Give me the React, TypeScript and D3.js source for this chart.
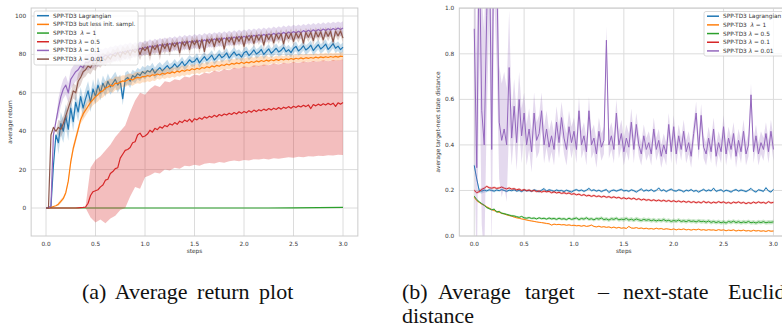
import React, { useEffect, useRef } from 'react';
import * as d3 from 'd3';

// sampling of the curves (steps, in millions)
const STEP = 0.025;
const SPREAD_STEP = 0.125;

// ---- (a) average return ----
const BLUE_L = [
  0, 0, 0.5, 22, 38, 34, 44, 40, 48, 41,
  52, 45, 55, 50, 58, 52, 57, 61, 55, 62,
  58, 64, 60, 65, 62, 66, 63, 65, 67, 64,
  66, 57, 67, 68, 66, 69, 68, 70, 69, 71,
  70, 71.5, 70.8, 72.6, 70.2, 71.9, 73.1, 71.4, 72.8, 74.2,
  72.5, 73.4, 75.1, 73.3, 74.6, 76.3, 74.1, 75.5, 77.2, 75.9,
  76.4, 78.1, 75.6, 77.3, 78.8, 76.9, 78.2, 79.6, 77.1, 78.5,
  80.1, 78.3, 79.2, 80.8, 78.1, 79.7, 81.3, 79.4, 80.2, 78.6,
  80.9, 81.6, 79.4, 80.7, 82.3, 80.2, 81.1, 82.6, 80.0, 81.5,
  82.9, 80.6, 81.8, 83.2, 81.3, 82.1, 83.7, 81.4, 82.5, 80.9,
  83.1, 84.2, 81.8, 82.9, 84.5, 82.3, 83.3, 84.8, 82.0, 83.6,
  85.1, 82.8, 83.9, 85.4, 82.6, 84.0, 85.6, 83.2, 84.3, 82.5,
  83.8,
];
const ORANGE_L = [
  0, 0, 0.3, 0.8, 1.2, 2, 3.5, 5, 8, 14,
  24, 31, 36, 41, 46, 49, 51, 53, 55, 56.5,
  58, 59, 60.5, 61, 62.5, 63, 64, 63.5, 65, 64.8,
  65.5, 66.2, 66, 66.8, 67.1, 66.7, 67.6, 68, 67.7, 68.5,
  68.4, 69.0, 68.6, 69.4, 69.1, 69.8, 69.3, 70.2, 69.7, 70.5,
  70.1, 70.9, 70.4, 71.3, 70.8, 71.7, 71.2, 72.0, 71.6, 72.5,
  72.0, 72.8, 72.3, 73.2, 72.8, 73.6, 73.1, 74.0, 73.5, 74.3,
  73.8, 74.6, 74.2, 75.0, 74.5, 75.3, 74.9, 75.6, 75.1, 75.9,
  75.3, 76.0, 75.6, 76.3, 75.8, 76.6, 76.1, 76.8, 76.3, 77.0,
  76.5, 77.2, 76.7, 77.4, 76.9, 77.6, 77.1, 77.7, 77.3, 77.9,
  77.4, 78.0, 77.6, 78.2, 77.7, 78.3, 77.9, 78.4, 78.0, 78.6,
  78.1, 78.7, 78.3, 78.8, 78.4, 78.9, 78.5, 79.0, 78.6, 79.1,
  78.9,
];
const GREEN_L_STEP = 0.25;
const GREEN_L = [0, 0, 0, 0, 0, 0, 0, 0, 0, 0, 0.1, 0.2, 0.3];
const RED_L = [
  0, 0, 0, 0, 0, 0, 0, 0, 0, 0,
  0, 0, 0, 0.1, 0.2, 0.3, 0.5, 2.5, 6.5, 8.5,
  9, 9.5, 11, 12, 14.5, 15, 18, 19, 20.5, 21,
  26, 28, 30, 30.5, 31.5, 34, 34.5, 38, 39, 37,
  37.5, 38.5, 40.5, 39.5, 41.5, 40.8, 42.3, 41.6, 43, 42.4,
  43.8, 43.2, 44.5, 43.6, 45.2, 44.5, 45.8, 45.0, 46.3, 44.8,
  46.5, 45.9, 47, 46.2, 47.5, 46.8, 47.8, 47.2, 48.3, 47.5,
  48.7, 48, 49, 48.4, 49.4, 48.7, 49.7, 49, 50.1, 49.3,
  50.3, 49.6, 50.7, 49.9, 51, 50.2, 51.2, 50.6, 51.5, 50.8,
  51.8, 51.1, 52, 51.3, 52.3, 51.5, 52.5, 51.9, 52.8, 52,
  53, 52.3, 53.2, 52.6, 53.5, 52.8, 53.7, 51.8, 53.9, 53.2,
  54.1, 53.4, 54.3, 53.6, 54.5, 53.8, 54.6, 52.9, 54.8, 54.1,
  55,
];
const PURPLE_L = [
  0, 0.2, 1, 38, 45, 52, 58, 62, 64, 60,
  67, 69, 71, 72, 74, 73, 76, 75.5, 77, 76.5,
  78, 77.5, 79, 78.4, 79.6, 79.0, 80.2, 79.7, 80.8, 80.2,
  81.3, 80.6, 81.7, 81.1, 82.3, 81.6, 82.8, 82.0, 83.2, 82.6,
  83.8, 83.1, 84.4, 83.4, 84.6, 83.8, 85.1, 84.2, 85.3, 84.5,
  85.7, 84.9, 86.0, 85.1, 86.3, 85.4, 86.6, 85.8, 86.8, 86.0,
  87.1, 86.2, 87.3, 86.4, 87.6, 86.7, 87.8, 87.0, 88.1, 87.2,
  88.3, 87.4, 88.6, 87.7, 88.8, 87.9, 89.1, 88.2, 89.3, 88.4,
  89.5, 88.7, 89.8, 88.9, 90.0, 89.2, 90.3, 89.4, 90.5, 89.6,
  90.7, 89.9, 91.0, 90.1, 91.2, 90.4, 91.5, 90.6, 91.7, 90.9,
  91.9, 91.1, 92.1, 91.3, 92.4, 91.6, 92.6, 91.8, 92.8, 92.0,
  93.0, 92.2, 93.2, 92.4, 93.4, 92.6, 93.5, 92.8, 93.7, 93.0,
  93.8,
];
const BROWN_L = [
  0, 0, 38, 42, 40, 42, 41, 44, 48, 52,
  56, 61, 60, 66, 68, 71, 72, 74, 73, 75.5,
  74.5, 77, 76, 78, 77, 79, 77.5, 80, 79, 81,
  78.5, 81.5, 80, 82, 79.5, 82.5, 81, 83, 80, 83.5,
  82, 84, 79.5, 84.5, 82.5, 85, 80, 85.5, 83, 85.8,
  81.5, 86, 84, 86.3, 80.8, 86.6, 84.4, 87, 82.5, 87.2,
  85, 87.5, 83, 87.8, 81.5, 88, 85.8, 88.2, 84, 88.5,
  86.2, 88.6, 82.8, 88.8, 86.5, 89, 85, 89.2, 86.8, 89.4,
  84.2, 89.6, 87.2, 89.8, 85.6, 90, 87.4, 90.1, 84.8, 90.3,
  87.8, 90.4, 86, 90.6, 88, 90.7, 85.5, 90.9, 88.3, 91,
  86.8, 91.1, 88.6, 91.3, 85.9, 91.4, 88.9, 91.5, 87.2, 91.7,
  89.1, 91.8, 87.6, 91.9, 89.4, 92, 86.5, 92.1, 89.6, 92.2,
  88.5,
];
// red band of (a) is very wide, read on its own grid
const RED_L_BAND_START = 0.4;
const RED_L_BAND_STEP = 0.05;
const RED_L_LO = [
  0, -5, -7.5, -6, -8, -5.5, -4, -1, 0, 6, 11, 10,
  16, 17, 18.5, 18, 20, 19.5, 21, 20.5, 22, 21.8, 22.5, 22, 23, 23.5, 23.2, 24, 23.6, 24.3, 24.8, 24.4,
  25, 24.7, 25.4, 25.2, 25.6, 25.3, 25.9, 25.7, 26.1, 26.5, 26.2, 26.7, 26.5, 27, 26.8, 27.2, 27.1, 27.5, 27.3, 27.7,
  27.6,
];
const RED_L_HI = [
  1, 21, 25, 27, 30, 33, 37, 40, 43, 50, 56, 60,
  59, 62, 64, 63, 66, 65.5, 67, 66.5, 68.5, 68, 69.5, 69, 70.5, 70, 71.5, 71, 72.3, 71.8, 73, 72.6,
  73.8, 73.2, 74.4, 74, 74.8, 74.3, 75.2, 74.8, 75.6, 75.2, 76, 75.5, 76.3, 75.9, 76.6, 76.2, 76.9, 76.5, 77.1, 76.8,
  77.3,
];
// half widths of the shaded bands, per 0.125 steps
const BLUE_L_SPREAD = [0, 6, 5, 5, 4, 4, 3.5, 3, 3, 3, 2.5, 2.5, 2.5, 2.5, 2.5, 2.5, 2.5, 2.5, 2.5, 2.5, 2.5, 2.5, 2.5, 2.5, 2.5];
const ORANGE_L_SPREAD = [0, 1, 2, 3, 3.5, 3.5, 3, 3, 3, 2.5, 2.5, 2.5, 2.5, 2.5, 2.5, 2.5, 2.5, 2.5, 2, 2, 2, 2, 2, 2, 2];
const PURPLE_L_SPREAD = [0, 5, 5, 4, 4, 4, 4, 3.5, 3.5, 3.5, 3.5, 3.5, 3.5, 3.5, 3.5, 3.5, 3.5, 3.5, 3.5, 3.5, 3.5, 3.5, 3.5, 3.5, 3.5];
const BROWN_L_SPREAD = [0, 4, 4, 3.5, 3, 3, 3, 3, 3, 3, 2.5, 2.5, 2.5, 2.5, 2.5, 2.5, 2.5, 2.5, 2.5, 2.5, 2.5, 2.5, 2.5, 2.5, 2.5];

// ---- (b) target / next-state distance ----
const BLUE_R = [
  0.31, 0.25, 0.199, 0.197, 0.201, 0.198, 0.203, 0.2, 0.197, 0.202,
  0.199, 0.204, 0.2, 0.196, 0.201, 0.199, 0.203, 0.197, 0.2, 0.195,
  0.202, 0.198, 0.2, 0.196, 0.203, 0.199, 0.194, 0.201, 0.208, 0.197,
  0.203, 0.2, 0.196, 0.202, 0.198, 0.2, 0.195, 0.201, 0.197, 0.193,
  0.2, 0.204, 0.198, 0.202, 0.196, 0.201, 0.209, 0.199, 0.203, 0.197,
  0.201, 0.195, 0.2, 0.204, 0.191, 0.199, 0.202, 0.197, 0.201, 0.205,
  0.198, 0.2, 0.196, 0.203, 0.199, 0.193, 0.2, 0.207, 0.197, 0.202,
  0.198, 0.204, 0.196, 0.2, 0.211, 0.198, 0.203, 0.195, 0.201, 0.206,
  0.199, 0.197, 0.203, 0.2, 0.194, 0.201, 0.198, 0.204, 0.196, 0.2,
  0.193, 0.199, 0.205, 0.197, 0.202, 0.198, 0.21, 0.196, 0.2, 0.203,
  0.195, 0.201, 0.198, 0.193, 0.2, 0.204, 0.197, 0.202, 0.199, 0.195,
  0.201, 0.209, 0.198, 0.193, 0.203, 0.2, 0.196, 0.212, 0.198, 0.193,
  0.205,
];
const ORANGE_R = [
  0.17, 0.155, 0.148, 0.14, 0.135, 0.128, 0.122, 0.116, 0.112, 0.108,
  0.104, 0.1, 0.097, 0.093, 0.09, 0.087, 0.083, 0.08, 0.078, 0.075,
  0.073, 0.07, 0.068, 0.066, 0.064, 0.062, 0.06, 0.059, 0.057, 0.055,
  0.054, 0.048, 0.052, 0.05, 0.051, 0.049, 0.05, 0.047, 0.049, 0.046,
  0.047, 0.045, 0.046, 0.043, 0.046, 0.042, 0.044, 0.048, 0.042, 0.04,
  0.043, 0.039, 0.041, 0.038, 0.04, 0.036, 0.039, 0.035, 0.038, 0.034,
  0.036, 0.033, 0.042, 0.035, 0.034, 0.037, 0.033, 0.035, 0.032, 0.034,
  0.031, 0.033, 0.03, 0.034, 0.031, 0.033, 0.029, 0.032, 0.03, 0.028,
  0.031, 0.027, 0.03, 0.028, 0.031, 0.027, 0.029, 0.026, 0.029, 0.027,
  0.03, 0.026, 0.028, 0.025, 0.028, 0.026, 0.027, 0.024, 0.028, 0.025,
  0.027, 0.023, 0.026, 0.024, 0.027, 0.022, 0.025, 0.023, 0.026, 0.022,
  0.024, 0.021, 0.025, 0.022, 0.024, 0.021, 0.023, 0.02, 0.024, 0.021,
  0.022,
];
const GREEN_R = [
  0.175, 0.16, 0.15, 0.142, 0.135, 0.125, 0.12, 0.115, 0.118, 0.105,
  0.108, 0.1, 0.098, 0.095, 0.092, 0.089, 0.088, 0.085, 0.082, 0.086,
  0.08, 0.078, 0.081, 0.077, 0.079, 0.075, 0.08, 0.076, 0.078, 0.074,
  0.079, 0.075, 0.077, 0.073, 0.078, 0.074, 0.076, 0.072, 0.078, 0.073,
  0.076, 0.079, 0.072, 0.077, 0.074, 0.08, 0.073, 0.076, 0.071, 0.077,
  0.074, 0.079, 0.072, 0.075, 0.07, 0.076, 0.073, 0.078, 0.071, 0.074,
  0.072, 0.077, 0.07, 0.074, 0.069, 0.075, 0.071, 0.068, 0.073, 0.069,
  0.072, 0.067, 0.071, 0.066, 0.07, 0.067, 0.072, 0.066, 0.069, 0.064,
  0.068, 0.065, 0.07, 0.064, 0.067, 0.063, 0.068, 0.064, 0.066, 0.062,
  0.067, 0.063, 0.065, 0.061, 0.066, 0.06, 0.064, 0.059, 0.063, 0.058,
  0.062, 0.057, 0.064, 0.06, 0.065, 0.059, 0.063, 0.058, 0.062, 0.059,
  0.064, 0.058, 0.061, 0.057, 0.062, 0.059, 0.063, 0.058, 0.061, 0.06,
  0.062,
];
const RED_R = [
  0.2, 0.19, 0.195, 0.205, 0.21, 0.218, 0.212, 0.21, 0.213, 0.209,
  0.211, 0.215, 0.21, 0.207, 0.211, 0.206, 0.208, 0.203, 0.206, 0.2,
  0.204, 0.199, 0.202, 0.197, 0.2, 0.195, 0.198, 0.193, 0.197, 0.194,
  0.196, 0.19, 0.194, 0.189, 0.192, 0.187, 0.19, 0.186, 0.189, 0.183,
  0.186, 0.181, 0.184, 0.178, 0.182, 0.176, 0.179, 0.174, 0.178, 0.173,
  0.176, 0.171, 0.175, 0.17, 0.173, 0.168, 0.172, 0.167, 0.17, 0.164,
  0.168, 0.163, 0.167, 0.162, 0.166, 0.16, 0.164, 0.158, 0.162, 0.157,
  0.16, 0.155, 0.159, 0.154, 0.158, 0.153, 0.157, 0.152, 0.156, 0.151,
  0.155, 0.15, 0.154, 0.149, 0.153, 0.148, 0.152, 0.147, 0.151, 0.146,
  0.15, 0.145, 0.152, 0.146, 0.15, 0.144, 0.149, 0.145, 0.151, 0.146,
  0.15, 0.144, 0.148, 0.143, 0.149, 0.145, 0.15, 0.144, 0.148, 0.142,
  0.147, 0.143, 0.149, 0.144, 0.15, 0.145, 0.148, 0.143, 0.151, 0.145,
  0.148,
];
const PURPLE_R = [
  0.91, 0.3, 1.3, 0.55, 0.4, 0.97, 1.4, 0.38, 1.5, 1.2,
  0.5, 0.42, 0.47, 0.4, 0.74, 0.43, 0.57, 0.41, 0.6, 0.44,
  0.54, 0.4, 0.47, 0.37, 0.54, 0.42, 0.45, 0.55, 0.4, 0.47,
  0.39, 0.44, 0.38, 0.5, 0.41, 0.52, 0.43, 0.38, 0.48, 0.41,
  0.46, 0.38, 0.55, 0.4, 0.44, 0.37, 0.55, 0.4, 0.43, 0.36,
  0.46, 0.39, 0.42, 0.86, 0.4, 0.44, 0.38, 0.54, 0.4, 0.45,
  0.37, 0.43, 0.39, 0.5, 0.38, 0.49, 0.4, 0.36, 0.44, 0.38,
  0.41, 0.36, 0.47, 0.38, 0.42, 0.35, 0.4, 0.36, 0.49, 0.37,
  0.48, 0.36, 0.44, 0.38, 0.46, 0.37, 0.41, 0.35, 0.45, 0.54,
  0.38, 0.53, 0.39, 0.36, 0.43, 0.37, 0.47, 0.35, 0.41, 0.37,
  0.48, 0.36, 0.43, 0.38, 0.45, 0.35, 0.42, 0.37, 0.46, 0.36,
  0.4, 0.62, 0.37, 0.44, 0.36, 0.41, 0.38, 0.45, 0.37, 0.46,
  0.38,
];
const BLUE_R_SPREAD = [0.01, 0.006, 0.005, 0.005, 0.005, 0.005, 0.005, 0.005, 0.005, 0.005, 0.005, 0.005, 0.005, 0.005, 0.005, 0.005, 0.005, 0.005, 0.005, 0.005, 0.005, 0.005, 0.005, 0.005, 0.005];
const ORANGE_R_SPREAD = [0.004, 0.004, 0.003, 0.003, 0.003, 0.003, 0.003, 0.003, 0.003, 0.003, 0.003, 0.003, 0.003, 0.003, 0.003, 0.003, 0.003, 0.003, 0.003, 0.003, 0.003, 0.003, 0.003, 0.003, 0.003];
const GREEN_R_SPREAD = [0.004, 0.004, 0.004, 0.004, 0.005, 0.005, 0.006, 0.006, 0.007, 0.007, 0.008, 0.008, 0.009, 0.009, 0.009, 0.009, 0.009, 0.009, 0.009, 0.009, 0.009, 0.009, 0.009, 0.009, 0.009];
const RED_R_SPREAD = [0.006, 0.005, 0.005, 0.005, 0.005, 0.005, 0.005, 0.005, 0.005, 0.005, 0.005, 0.005, 0.005, 0.005, 0.005, 0.005, 0.005, 0.005, 0.005, 0.005, 0.005, 0.005, 0.005, 0.005, 0.005];
const PURPLE_R_SPREAD = [0.5, 0.45, 0.25, 0.12, 0.09, 0.08, 0.07, 0.07, 0.06, 0.06, 0.06, 0.06, 0.06, 0.05, 0.05, 0.05, 0.05, 0.05, 0.05, 0.05, 0.05, 0.05, 0.05, 0.05, 0.05];

const X_TICKS = [0, 0.5, 1, 1.5, 2, 2.5, 3];
const Y_TICKS_L = [0, 20, 40, 60, 80, 100];
const Y_TICKS_R = [0, 0.2, 0.4, 0.6, 0.8, 1.0];

const LEGEND_L = [
  'SPP-TD3 Lagrangian',
  'SPP-TD3 but less init. sampl.',
  'SPP-TD3  λ = 1',
  'SPP-TD3 λ = 0.5',
  'SPP-TD3 λ = 0.1',
  'SPP-TD3 λ = 0.01',
];
const LEGEND_R = [
  'SPP-TD3 Lagrangian',
  'SPP-TD3  λ = 1',
  'SPP-TD3 λ = 0.5',
  'SPP-TD3 λ = 0.1',
  'SPP-TD3 λ = 0.01',
];

const C = {
  blue: '#1f77b4',
  orange: '#ff7f0e',
  green: '#2ca02c',
  red: '#d62728',
  purple: '#9467bd',
  brown: '#8c564b',
};

const FONT = 'DejaVu Sans, sans-serif';
const INK = '#333';
const GRID = '#dcdcdc';

type Series = { vals: number[]; color: string; step?: number; spread?: number[]; band?: { start: number; step: number; lo: number[]; hi: number[] } };

function drawPanel(svg: any, id: string, xRange: [number, number], yDomain: [number, number], yTop: number,
  yTicks: number[], yFmt: (v: number) => string, ylabel: string, series: Series[], legend: string[], legendColors: string[],
  legendBox: { x: number; y: number; w: number; h: number }, lineW: number) {
  const top = 8, bottom = 236;
  const x = d3.scaleLinear().domain([-0.15, 3.15]).range(xRange);
  const y = d3.scaleLinear().domain(yDomain).range([bottom, yTop]);
  const g = svg.append('g');

  g.append('clipPath').attr('id', id).append('rect')
    .attr('x', xRange[0]).attr('y', top).attr('width', xRange[1] - xRange[0]).attr('height', bottom - top);

  // grid
  g.selectAll('.gx').data(X_TICKS).enter().append('line')
    .attr('x1', (d: number) => x(d)).attr('x2', (d: number) => x(d)).attr('y1', top).attr('y2', bottom)
    .attr('stroke', GRID).attr('stroke-width', 1);
  g.selectAll('.gy').data(yTicks).enter().append('line')
    .attr('x1', xRange[0]).attr('x2', xRange[1]).attr('y1', (d: number) => y(d)).attr('y2', (d: number) => y(d))
    .attr('stroke', GRID).attr('stroke-width', 1);

  const plot = g.append('g').attr('clip-path', `url(#${id})`);
  series.forEach((s) => {
    const step = s.step ?? STEP;
    const pts = s.vals.map((v, i) => [i * step, v] as [number, number]);
    if (s.band) {
      const b = s.band;
      const bp = b.lo.map((lo, i) => [b.start + i * b.step, lo, b.hi[i]]);
      plot.append('path')
        .attr('d', d3.area<number[]>().x((d) => x(d[0])).y0((d) => y(d[1])).y1((d) => y(d[2]))(bp))
        .attr('fill', s.color).attr('fill-opacity', 0.3);
    }
    if (s.spread) {
      const sp = s.spread;
      const w = (d: [number, number]) => sp[Math.min(sp.length - 1, Math.floor(d[0] / SPREAD_STEP + 1e-9))];
      plot.append('path')
        .attr('d', d3.area<[number, number]>().x((d) => x(d[0])).y0((d) => y(d[1] - w(d))).y1((d) => y(d[1] + w(d)))(pts))
        .attr('fill', s.color).attr('fill-opacity', 0.25);
    }
    plot.append('path')
      .attr('d', d3.line<[number, number]>().x((d) => x(d[0])).y((d) => y(d[1]))(pts))
      .attr('fill', 'none').attr('stroke', s.color).attr('stroke-width', lineW).attr('stroke-linejoin', 'round');
  });

  // frame
  g.append('rect').attr('x', xRange[0]).attr('y', top).attr('width', xRange[1] - xRange[0]).attr('height', bottom - top)
    .attr('fill', 'none').attr('stroke', '#cccccc').attr('stroke-width', 1);

  // tick labels
  g.selectAll('.tx').data(X_TICKS).enter().append('text')
    .attr('x', (d: number) => x(d)).attr('y', 245.5).attr('text-anchor', 'middle')
    .attr('font-family', FONT).attr('font-size', 5.8).attr('fill', INK).text((d: number) => d.toFixed(1));
  g.selectAll('.ty').data(yTicks).enter().append('text')
    .attr('x', xRange[0] - 5).attr('y', (d: number) => y(d)).attr('dy', '0.35em').attr('text-anchor', 'end')
    .attr('font-family', FONT).attr('font-size', 5.8).attr('fill', INK).text(yFmt);

  g.append('text').attr('x', (xRange[0] + xRange[1]) / 2).attr('y', 253).attr('text-anchor', 'middle')
    .attr('font-family', FONT).attr('font-size', 5.8).attr('fill', INK).text('steps');
  g.append('text').attr('transform', `translate(${xRange[0] - 19},122) rotate(-90)`).attr('text-anchor', 'middle')
    .attr('font-family', FONT).attr('font-size', 5.8).attr('fill', INK).text(ylabel);

  // legend
  const lg = g.append('g');
  lg.append('rect').attr('x', legendBox.x).attr('y', legendBox.y).attr('width', legendBox.w).attr('height', legendBox.h)
    .attr('rx', 2).attr('fill', '#fff').attr('fill-opacity', 0.8).attr('stroke', '#d0d0d0').attr('stroke-width', 0.8);
  legend.forEach((label, k) => {
    const ly = legendBox.y + 4.7 + k * 8.68;
    lg.append('line').attr('x1', legendBox.x + 3).attr('x2', legendBox.x + 15).attr('y1', ly).attr('y2', ly)
      .attr('stroke', legendColors[k]).attr('stroke-width', 1.5);
    const t = lg.append('text').attr('x', legendBox.x + 19).attr('y', ly).attr('dy', '0.35em')
      .attr('font-family', FONT).attr('font-size', 5.8).attr('fill', INK).style('white-space', 'pre');
    const parts = label.split('λ');
    t.append('tspan').text(parts[0]);
    if (parts.length > 1) {
      t.append('tspan').attr('font-style', 'italic').text('λ');
      t.append('tspan').text(parts[1]);
    }
  });
}

export default function App() {
  const ref = useRef<SVGGElement>(null);

  useEffect(() => {
    document.body.style.margin = '0';
    if (!ref.current) return;
    const root = d3.select(ref.current);
    root.selectAll('*').remove();

    drawPanel(root, 'clipL', [31.15, 357.85], [-14.58, 104.17], 8, Y_TICKS_L, (d) => String(d), 'average return', [
      { vals: BLUE_L, color: C.blue, spread: BLUE_L_SPREAD },
      { vals: ORANGE_L, color: C.orange, spread: ORANGE_L_SPREAD },
      { vals: GREEN_L, color: C.green, step: GREEN_L_STEP },
      { vals: RED_L, color: C.red, band: { start: RED_L_BAND_START, step: RED_L_BAND_STEP, lo: RED_L_LO, hi: RED_L_HI } },
      { vals: PURPLE_L, color: C.purple, spread: PURPLE_L_SPREAD },
      { vals: BROWN_L, color: C.brown, spread: BROWN_L_SPREAD },
    ], LEGEND_L, [C.blue, C.orange, C.green, C.red, C.purple, C.brown], { x: 34, y: 11, w: 104, h: 54 }, 1.2);

    drawPanel(root, 'clipR', [459.3, 788.4], [0, 1], 8.3, Y_TICKS_R, (d) => d.toFixed(1), 'average target-next state distance', [
      { vals: BLUE_R, color: C.blue, spread: BLUE_R_SPREAD },
      { vals: ORANGE_R, color: C.orange, spread: ORANGE_R_SPREAD },
      { vals: GREEN_R, color: C.green, spread: GREEN_R_SPREAD },
      { vals: RED_R, color: C.red, spread: RED_R_SPREAD },
      { vals: PURPLE_R, color: C.purple, spread: PURPLE_R_SPREAD },
    ], LEGEND_R, [C.blue, C.orange, C.green, C.red, C.purple], { x: 704, y: 11.5, w: 100, h: 44.5 }, 1.0);
  }, []);

  const cap = { fontFamily: '"Liberation Serif", "Times New Roman", serif', fontSize: 22, fill: '#111' };
  return (
    <svg width={782} height={332} style={{ display: 'block', background: '#fff' }}>
      <g ref={ref} />
      <text x={82} y={299} style={{ ...cap, wordSpacing: 4 }}>(a) Average return plot</text>
      <text y={299} style={cap}>
        <tspan x={402}>(b)</tspan>
        <tspan x={438}>Average</tspan>
        <tspan x={525}>target</tspan>
        <tspan x={598}>–</tspan>
        <tspan x={623}>next-state</tspan>
        <tspan x={728}>Euclidean</tspan>
      </text>
      <text x={402} y={323} style={cap}>distance</text>
    </svg>
  );
}
